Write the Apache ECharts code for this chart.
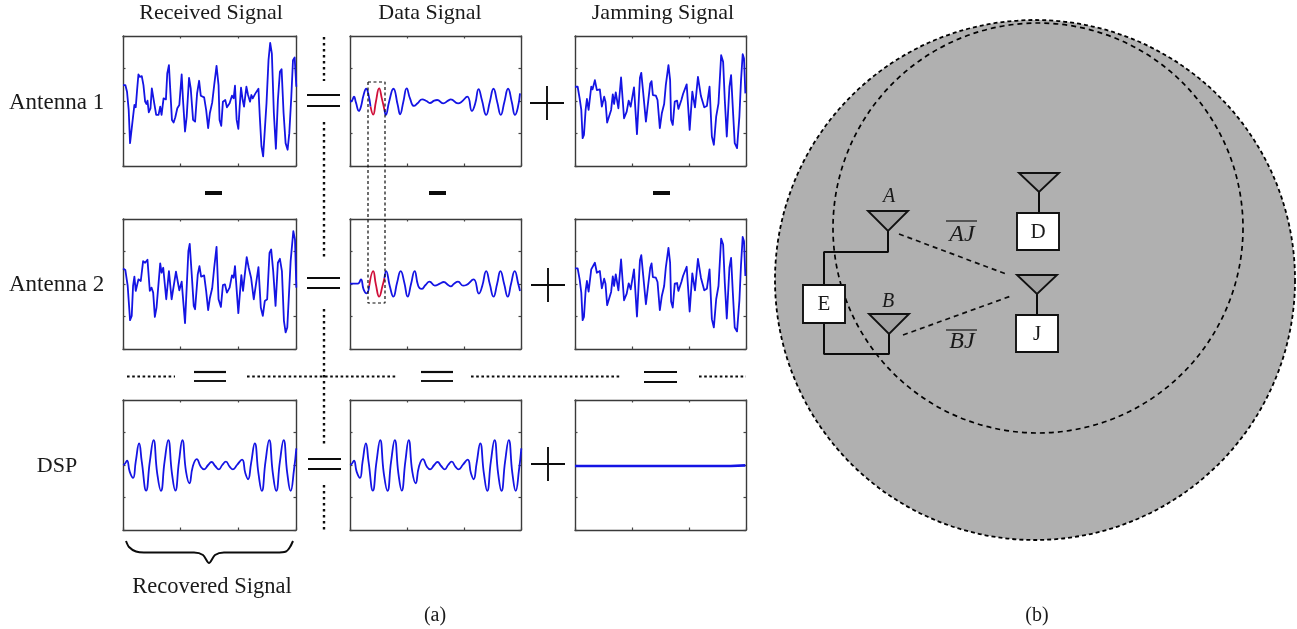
<!DOCTYPE html>
<html><head><meta charset="utf-8">
<style>html,body{margin:0;padding:0;background:#fff}#c{width:1297px;height:629px}</style>
<script src="https://cdn.jsdelivr.net/npm/echarts@6/dist/echarts.min.js"></script>
</head><body><div id="c"></div>
<script>
// Signals: [sample, amplitude]; one axis division = 172 samples / 98 amplitude units
const received1 = [[0,48],[7,48],[12,28],[17,-27],[21,-127],[26,-127],[30,-47],[34,-12],[38,-19],[42,33],[46,80],[50,73],[56,75],[61,48],[66,-2],[70,-9],[73,1],[77,-34],[82,-22],[86,38],[90,41],[94,-12],[99,-42],[106,-42],[111,-17],[115,-42],[121,8],[128,5],[132,83],[137,108],[141,33],[146,-57],[151,-65],[156,-49],[162,-22],[168,-12],[175,80],[179,3],[185,-92],[190,-47],[197,70],[202,38],[209,-57],[215,-62],[221,23],[227,61],[232,16],[242,11],[248,-27],[254,-82],[259,-37],[266,-5],[272,48],[279,106],[285,48],[288,-57],[293,-75],[298,-2],[305,3],[310,-19],[318,-7],[325,16],[330,8],[334,46],[339,-57],[344,-84],[348,-17],[352,40],[357,3],[361,-17],[368,43],[373,18],[379,-2],[383,18],[387,8],[395,23],[404,37],[408,-47],[413,-137],[418,-167],[423,-87],[428,-7],[434,123],[439,175],[444,143],[450,-37],[456,-144],[462,3],[468,88],[473,96],[479,-37],[485,-127],[491,-147],[496,-97],[502,13],[507,123],[512,131],[517,43]];
const received2 = [[0,47],[7,42],[14,-6],[21,-109],[26,-96],[30,-6],[34,22],[38,-21],[46,14],[53,9],[60,69],[66,64],[73,73],[80,-21],[85,-11],[90,-26],[95,-99],[100,-71],[111,62],[115,34],[120,49],[129,-46],[137,39],[145,-46],[158,37],[168,-19],[175,7],[185,-118],[195,99],[199,121],[205,29],[211,-66],[215,-76],[223,29],[228,54],[233,22],[242,26],[248,-21],[254,-79],[259,-43],[266,-13],[272,49],[279,112],[285,-46],[292,-69],[298,-3],[304,-1],[310,-26],[318,-11],[325,26],[330,19],[334,54],[344,-88],[353,27],[358,-21],[362,-16],[369,81],[375,49],[382,19],[390,-46],[395,-41],[404,51],[411,-71],[417,-96],[423,-51],[430,-46],[437,94],[442,104],[448,39],[455,-66],[462,64],[468,76],[474,39],[480,-111],[485,-146],[490,-131],[500,69],[508,159],[513,134],[517,-11]];
const recovered = [[0,0],[5,3],[12,13],[20,-20],[30,-39],[38,10],[48,65],[56,10],[69,-77],[80,10],[91,75],[102,-25],[113,-78],[124,10],[135,75],[146,-25],[156,-77],[167,10],[177,75],[188,-20],[198,-55],[208,-5],[220,18],[232,-5],[242,-13],[254,0],[264,9],[275,-3],[286,-13],[296,0],[307,10],[318,-5],[328,-13],[340,0],[355,16],[365,-25],[373,-43],[382,5],[393,65],[404,-25],[414,-78],[425,10],[436,75],[447,-25],[457,-78],[468,10],[479,75],[490,-25],[500,-78],[510,-15],[517,50]];
const data1a = [[0,-2],[6,1],[12,13],[18,-5],[27,-30],[33,-17],[41,18],[49,37],[55,23],[62,-17]];
const data1red = [[62,-17],[70,-41],[78,-3],[88,38],[96,8],[104,-27]];
const data1b = [[104,-27],[108,-42],[118,-2],[131,37],[144,-12],[151,-40],[161,-2],[171,38],[181,8],[193,-15],[204,-7],[218,5],[231,0],[241,-6],[254,1],[263,3],[281,-7],[296,1],[304,5],[326,-7],[336,-3],[354,13],[368,-30],[378,-7],[388,36],[398,3],[411,-42],[422,-2],[433,37],[444,-2],[455,-42],[466,-2],[477,37],[488,-2],[498,-42],[506,-22],[513,23]];
const data2a = [[0,1],[24,1],[33,14],[41,-16],[50,-28],[58,-6]];
const data2red = [[58,-6],[70,39],[78,-1],[88,-38],[98,-6],[104,18]];
const data2b = [[104,18],[109,39],[120,-6],[131,-38],[142,4],[153,39],[164,4],[174,-38],[184,-1],[195,39],[206,-6],[216,-15],[228,-3],[240,7],[256,-5],[271,1],[283,6],[296,-3],[304,-7],[314,1],[326,7],[341,-5],[351,-3],[373,14],[389,-29],[399,-6],[411,39],[422,-1],[433,-38],[444,1],[454,39],[465,1],[476,-38],[486,1],[497,39],[508,-1],[513,-21]];
const jamming1 = [[0,43],[8,43],[14,8],[19,-27],[23,-112],[27,-102],[32,-27],[36,6],[41,-27],[49,43],[53,35],[60,63],[66,33],[75,35],[81,-17],[88,13],[92,-2],[97,-65],[102,-62],[109,-27],[114,20],[118,-9],[123,26],[131,-22],[139,71],[148,-52],[156,-32],[162,1],[168,-17],[178,41],[187,-100],[196,70],[200,85],[206,23],[214,-62],[219,-65],[227,53],[231,60],[235,18],[244,16],[249,3],[256,-82],[262,-37],[269,-9],[274,48],[282,108],[287,63],[290,-57],[295,-72],[301,-2],[308,1],[312,-24],[321,3],[326,21],[331,18],[337,50],[346,-87],[354,28],[362,-19],[371,73],[380,15],[384,13],[390,-19],[398,-15],[406,43],[413,-107],[419,-132],[426,-47],[433,-7],[441,138],[447,118],[452,3],[458,-107],[466,43],[471,78],[476,-17],[482,-127],[489,-142],[496,-47],[501,63],[506,141],[510,128],[514,23]];
const jamming2 = [[0,47],[8,47],[14,14],[19,-26],[23,-109],[27,-99],[32,-21],[36,9],[41,-23],[49,44],[53,39],[60,64],[66,34],[75,39],[81,-13],[88,16],[92,1],[97,-64],[102,-61],[109,-24],[114,23],[118,-6],[123,29],[131,-19],[139,74],[148,-49],[156,-29],[162,2],[168,-16],[178,44],[187,-98],[196,72],[200,87],[206,24],[214,-61],[219,-64],[227,49],[231,62],[235,21],[244,19],[249,6],[256,-79],[262,-36],[269,-6],[274,49],[282,109],[287,64],[290,-53],[295,-71],[301,1],[308,3],[312,-21],[321,6],[326,24],[331,21],[337,52],[346,-83],[354,32],[362,-19],[371,76],[380,19],[384,16],[390,-19],[398,-14],[406,44],[413,-106],[419,-131],[426,-46],[433,-6],[441,137],[447,119],[452,4],[458,-104],[466,49],[471,79],[476,-21],[482,-131],[489,-143],[496,-51],[501,59],[506,142],[510,129],[514,24]];
const residual = [[0,-3],[400,-3],[470,-3],[470,-1],[514,-1]];

const columnTitles = ['Received Signal','Data Signal','Jamming Signal'];
const rowTitles = ['Antenna 1','Antenna 2','DSP'];
const BLUE = '#1414e4', RED = '#d0103a', INK = '#0c0c0c';

const cols = [[123,173],[350,171],[575,171]];
const rows = [36,219,400];
const panelSeries = [
  [[received1,BLUE,false]],
  [[data1a,BLUE,true],[data1b,BLUE,true],[data1red,RED,true]],
  [[jamming1,BLUE,false]],
  [[received2,BLUE,false]],
  [[data2a,BLUE,true],[data2b,BLUE,true],[data2red,RED,true]],
  [[jamming2,BLUE,false]],
  [[recovered,BLUE,true]],
  [[recovered,BLUE,true]],
  [[residual,BLUE,false,2.6]]
];

const grid=[],xAxis=[],yAxis=[],series=[];
const axisBase = {axisLine:{show:true,onZero:false,lineStyle:{color:'#3a3a3a',width:1.4}},
  axisTick:{show:true,inside:true,length:2.5,lineStyle:{color:'#444',width:1.2}},
  axisLabel:{show:false},splitLine:{show:false}};
panelSeries.forEach((segs,i)=>{
  const c=cols[i%3], r=rows[Math.floor(i/3)];
  grid.push({left:c[0],top:r,width:c[1],height:130});
  ['bottom','top'].forEach(p=>xAxis.push({...axisBase,type:'value',gridIndex:i,position:p,min:0,max:516,interval:172}));
  ['left','right'].forEach(p=>yAxis.push({...axisBase,type:'value',gridIndex:i,position:p,min:-196,max:196,interval:98}));
  segs.forEach(s=>series.push({type:'line',xAxisIndex:2*i,yAxisIndex:2*i,data:s[0],showSymbol:false,symbol:'none',
    smooth:s[2]?0.5:false,silent:true,z:3,clip:false,lineStyle:{color:s[1],width:s[3]||1.8,join:'round'}}));
});

// Whole-canvas axes for the annotation layer and diagram (b), unit = 1 of the 1297x629 drawing
const ov = panelSeries.length;
grid.push({left:0,top:0,width:1297,height:629});
xAxis.push({type:'value',gridIndex:ov,min:0,max:1297,show:false});
yAxis.push({type:'value',gridIndex:ov,min:0,max:629,inverse:true,show:false});
const ovIdx = {xAxisIndex:2*ov,yAxisIndex:2*ov};
const addLine=(pts,w,type,z,extra)=>series.push({type:'line',...ovIdx,data:pts,symbol:'none',silent:true,clip:false,z:z||4,
  lineStyle:{color:INK,width:w,type:type||'solid',cap:'butt'},...(extra||{})});

// dotted separators
const vDotted=[[324,37,81],[324,122,257],[324,309,446],[324,485,530]];
vDotted.forEach(d=>addLine([[d[0],d[1]],[d[0],d[2]]],2.4,[2.6,3.4]));
const hDotted=[[127,175],[247,397],[471,621],[699,746]];
hDotted.forEach(d=>addLine([[d[0],376.5],[d[1],376.5]],2,[2.6,2.6]));
// equals signs
const equals=[[307,340,95,106],[307,340,278,288],[308,341,459,469],[194,226,372,381],[421,453,372,381],[644,677,372,382]];
equals.forEach(e=>{addLine([[e[0],e[2]],[e[1],e[2]]],2.2);addLine([[e[0],e[3]],[e[1],e[3]]],1.9);});
// plus signs
const pluses=[[547,103],[548,285],[548,464]];
pluses.forEach(p=>{addLine([[p[0]-17,p[1]],[p[0]+17,p[1]]],1.9);addLine([[p[0],p[1]-17],[p[0],p[1]+17]],1.9);});
// minus signs
const minuses=[[205,222],[429,446],[653,670]];
minuses.forEach(m=>addLine([[m[0],193],[m[1],193]],4));
// dashed highlight box
addLine([[368,82],[385,82],[385,303],[368,303],[368,82]],1.2,[3,2.5],6);
// brace
addLine([[126,541],[129,547],[136,551.5],[144,552.5],[194,552.5],[203,555],[209,563],[215,555],[224,552.5],[276,552.5],[286,551.5],[290,547],[293,541]],2,'solid',4,{smooth:0.25});

// circles
const disk={c:[1035,280],d:520}, ring={c:[1038,228],d:410};
series.push({type:'scatter',...ovIdx,data:[disk.c],symbol:'circle',symbolSize:disk.d,silent:true,clip:false,z:1,
  itemStyle:{color:'#b0b0b0',opacity:1,borderColor:'#000',borderWidth:1.8,borderType:[4,3]}});
series.push({type:'scatter',...ovIdx,data:[ring.c],symbol:'circle',symbolSize:ring.d,silent:true,clip:false,z:2,
  itemStyle:{color:'rgba(0,0,0,0)',opacity:1,borderColor:'#000',borderWidth:1.7,borderType:[5,4]}});

// wiring and links
const wires=[[[888,231],[888,252],[824,252],[824,285]],[[824,323],[824,354],[889,354],[889,334]],[[1039,192],[1039,213]],[[1037,294],[1037,315]]];
wires.forEach(w=>addLine(w,2,'solid',5));
const links=[[[899,234],[1006,274]],[[903,335],[1011,296]]];
links.forEach(l=>addLine(l,1.7,[5,4],5));
const overbars=[[946,977,221],[946,977,330]];
overbars.forEach(o=>addLine([[o[0],o[2]],[o[1],o[2]]],1.1,'solid',5));

// boxes and antenna triangles
const GREY='#a2a2a2', WHITE='#fff';
const shapes=[
 {fill:WHITE,pts:[[803,285],[845,285],[845,323],[803,323]]},
 {fill:WHITE,pts:[[1017,213],[1059,213],[1059,250],[1017,250]]},
 {fill:WHITE,pts:[[1016,315],[1058,315],[1058,352],[1016,352]]},
 {fill:GREY,pts:[[868,211],[908,211],[888,231]]},
 {fill:GREY,pts:[[869,314],[909,314],[889,334]]},
 {fill:GREY,pts:[[1019,173],[1059,173],[1039,192]]},
 {fill:GREY,pts:[[1017,275],[1057,275],[1037,294]]}
];
series.push({type:'custom',...ovIdx,silent:true,clip:false,z:6,data:shapes.map(s=>s.pts[0]),
  renderItem:(p,api)=>{const s=shapes[p.dataIndex];
    return {type:'polygon',shape:{points:s.pts.map(q=>api.coord(q))},style:{fill:s.fill,stroke:'#111',lineWidth:1.9}};}});

// text
const serif='"Liberation Serif"';
const T=(text,x,y,size,align,style)=>({type:'text',x,y,z:20,style:{text,x:0,y:0,fill:'#1a1a1a',
  font:`${style||'normal'} ${size}px ${serif}`,textAlign:align||'center',textVerticalAlign:'middle'}});
const texts=[
 T(columnTitles[0],211,13,22),T(columnTitles[1],430,13,22),T(columnTitles[2],663,13,22),
 T(rowTitles[0],9,103,23,'left'),T(rowTitles[1],9,285,23,'left'),T(rowTitles[2],57,466,22),
 T('Recovered Signal',212,587,22.5),T('(a)',435,616,20),T('(b)',1037,616,20),
 T('A',889,197,20,'center','italic'),T('B',888,302,20,'center','italic'),
 T('AJ',962,235,24,'center','italic'),T('BJ',962,342,24,'center','italic'),
 T('D',1038,232,21),T('J',1037,334,21),T('E',824,304,21)
];

const chart=echarts.init(document.getElementById('c'),null,{renderer:'canvas',width:1297,height:629});
chart.setOption({animation:false,backgroundColor:'#fff',grid,xAxis,yAxis,series,graphic:texts});
</script></body></html>
